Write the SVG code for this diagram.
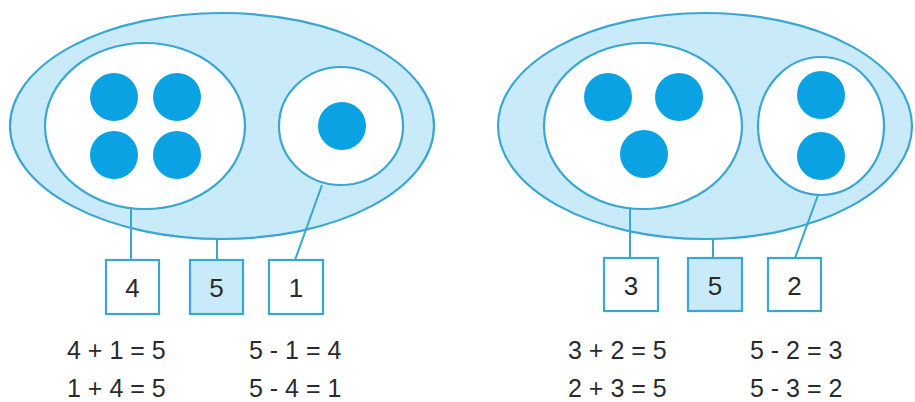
<svg xmlns="http://www.w3.org/2000/svg" width="915" height="402" viewBox="0 0 915 402">
<style>
.outer{fill:#c9eaf8;stroke:#3aa6d2;stroke-width:2.2}
.inner{fill:#ffffff;stroke:#3aa6d2;stroke-width:2.2}
.dot{fill:#0aa2e2}
.box{fill:#ffffff;stroke:#3aa6d2;stroke-width:2.2}
.boxs{fill:#c9eaf8;stroke:#3aa6d2;stroke-width:2.2}
.ln{stroke:#3aa6d2;stroke-width:2;fill:none}
text{font-family:"Liberation Sans",Arial,sans-serif;font-size:25px;fill:#2a2a2a}
.c{text-anchor:middle;font-size:26px}
</style>
<rect width="915" height="402" fill="#ffffff"/>
<g id="set-left">
<ellipse class="outer" cx="222" cy="126" rx="212" ry="113"/>
</g>
<g id="part-4">
<ellipse class="inner" cx="145" cy="126" rx="100" ry="83"/>
<circle class="dot" cx="114" cy="97" r="24"/>
<circle class="dot" cx="177" cy="97" r="24"/>
<circle class="dot" cx="114" cy="155" r="24"/>
<circle class="dot" cx="177" cy="155" r="24"/>
</g>
<g id="part-1">
<ellipse class="inner" cx="341" cy="126" rx="62" ry="59"/>
<circle class="dot" cx="342" cy="126" r="24"/>
</g>
<g id="set-right">
<ellipse class="outer" cx="705" cy="126" rx="207" ry="113"/>
</g>
<g id="part-3">
<ellipse class="inner" cx="643" cy="126" rx="99" ry="83"/>
<circle class="dot" cx="608" cy="97" r="24"/>
<circle class="dot" cx="679" cy="97" r="24"/>
<circle class="dot" cx="644" cy="154" r="24"/>
</g>
<g id="part-2">
<ellipse class="inner" cx="821" cy="126" rx="63" ry="69"/>
<circle class="dot" cx="821" cy="95" r="24"/>
<circle class="dot" cx="821" cy="156" r="24"/>
</g>
<g id="connectors">
<line class="ln" x1="131" y1="209" x2="131" y2="260"/>
<line class="ln" x1="217" y1="239" x2="217" y2="260"/>
<line class="ln" x1="322" y1="185" x2="295" y2="260"/>
<line class="ln" x1="630" y1="209" x2="630" y2="258"/>
<line class="ln" x1="713" y1="239" x2="713" y2="258"/>
<line class="ln" x1="818" y1="195" x2="795" y2="258"/>
</g>
<g id="box-4"><rect class="box" x="106" y="260" width="53" height="54"/><text class="c" x="132.5" y="297">4</text></g>
<g id="box-5a"><rect class="boxs" x="190" y="260" width="53" height="54"/><text class="c" x="216.5" y="297">5</text></g>
<g id="box-1"><rect class="box" x="269" y="260" width="54" height="54"/><text class="c" x="296" y="297">1</text></g>
<g id="box-3"><rect class="box" x="604" y="258" width="54" height="53"/><text class="c" x="631" y="295">3</text></g>
<g id="box-5b"><rect class="boxs" x="688" y="258" width="54" height="53"/><text class="c" x="715" y="295">5</text></g>
<g id="box-2"><rect class="box" x="768" y="258" width="53" height="53"/><text class="c" x="794.5" y="295">2</text></g>
<g id="equations">
<text x="67" y="359">4 + 1 = 5</text>
<text x="67" y="397">1 + 4 = 5</text>
<text x="249" y="359">5 - 1 = 4</text>
<text x="249" y="397">5 - 4 = 1</text>
<text x="568" y="359">3 + 2 = 5</text>
<text x="568" y="397">2 + 3 = 5</text>
<text x="750" y="359">5 - 2 = 3</text>
<text x="750" y="397">5 - 3 = 2</text>
</g>
</svg>
